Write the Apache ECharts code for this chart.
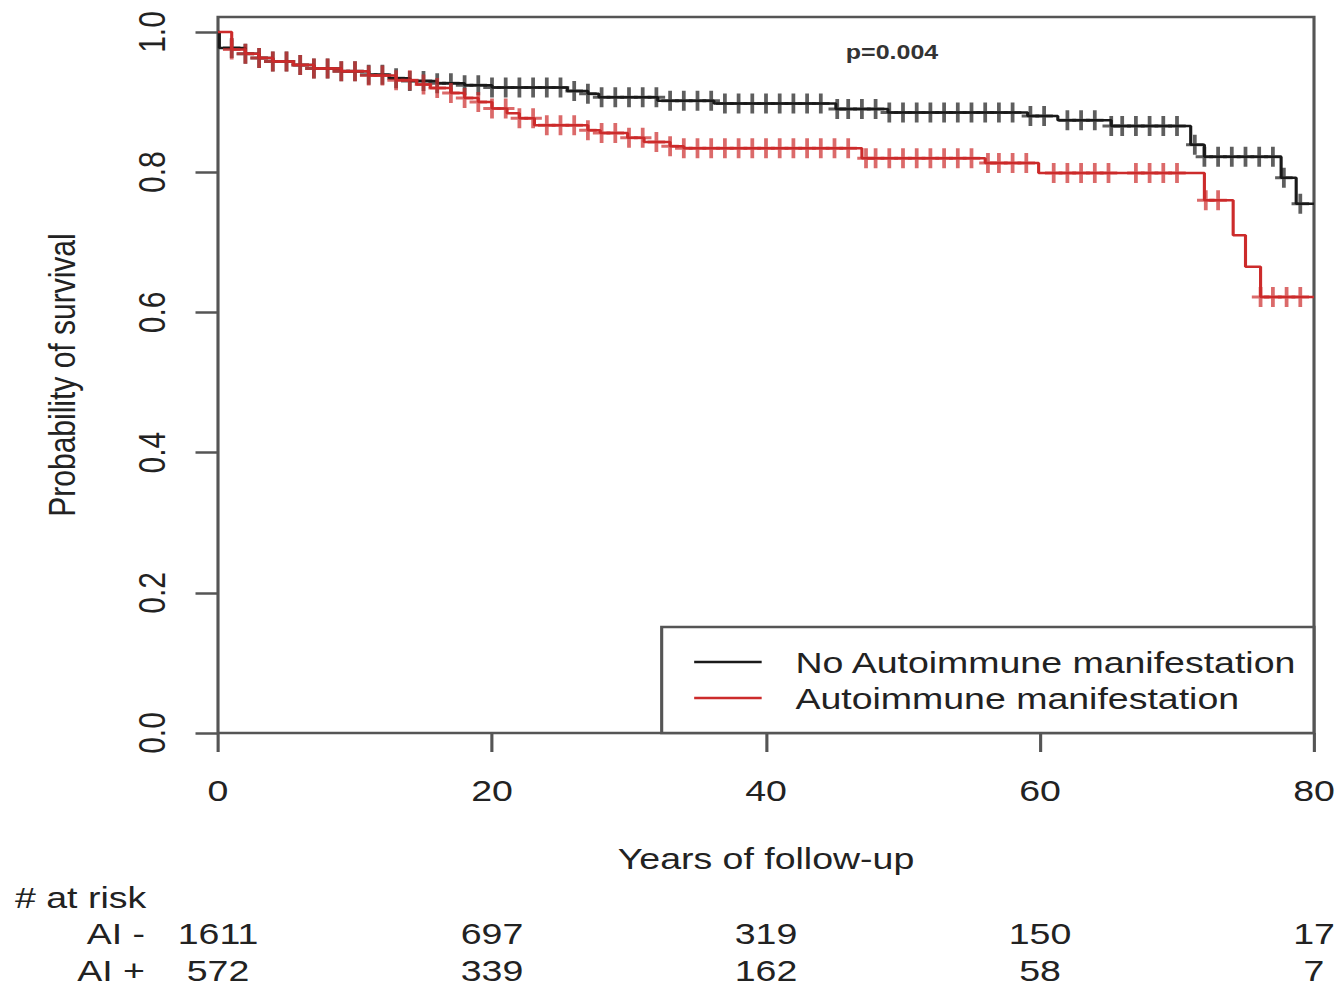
<!DOCTYPE html>
<html>
<head>
<meta charset="utf-8">
<script src="https://cdn.jsdelivr.net/npm/echarts@6/dist/echarts.min.js"></script>
<style>
  html, body { margin: 0; padding: 0; background: #fff; overflow: hidden; }
  /* the reference is stretched horizontally, so draw narrow and stretch */
  #chart { width: 1072px; height: 989px; transform: scaleX(1.25); transform-origin: 0 0; }
</style>
</head>
<body>
<div id="chart"></div>
<script>
// Kaplan-Meier steps: time (years) and survival after the step
const blackTimes = [0, 0.1, 2, 3, 4, 5.5, 7, 9, 11, 12.5, 14, 16, 18, 20, 25.5, 27, 27.8, 32.1, 36.2, 45.1, 48.9, 59.1, 61.3, 65.2, 71.0, 72.0, 77.6, 78.7, 80];
const blackSurv  = [1.0, 0.977, 0.969, 0.963, 0.958, 0.953, 0.948, 0.944, 0.939, 0.934, 0.930, 0.927, 0.924, 0.921, 0.916, 0.912, 0.907, 0.902, 0.898, 0.890, 0.885, 0.880, 0.874, 0.866, 0.839, 0.822, 0.792, 0.755, 0.755];

const redTimes = [0, 1.0, 2, 3, 4, 5.5, 7, 9, 11, 13, 14.5, 15.5, 17, 18, 19, 20, 21.1, 22, 23.1, 27.0, 27.9, 29.9, 31.1, 33.0, 34.0, 47.0, 56.0, 59.9, 72.0, 74.1, 75.0, 76.1, 80];
const redSurv  = [1.0, 0.975, 0.969, 0.963, 0.958, 0.953, 0.948, 0.944, 0.938, 0.931, 0.925, 0.920, 0.913, 0.906, 0.900, 0.891, 0.884, 0.877, 0.867, 0.860, 0.856, 0.849, 0.843, 0.837, 0.834, 0.820, 0.813, 0.799, 0.760, 0.710, 0.665, 0.622, 0.622];

// censoring times (+ marks)
const blackCensored = [1, 2, 3, 4, 5, 6, 7, 8, 9, 10, 11, 12, 13, 14, 15, 16, 17, 18, 19, 20,
  21, 22, 23, 24, 25, 26, 27, 28, 29, 30, 31, 32, 33, 34, 35, 36, 37, 38, 39, 40,
  41, 42, 43, 44, 45.2, 46, 47, 48, 49, 50, 51, 52, 53, 54, 55, 56, 57, 58, 59.3, 60.3,
  62, 63, 64, 65.2, 66, 67, 68, 69, 70, 71.3, 72, 73, 74, 75, 76, 77, 77.8, 79];
const redCensored = [1, 2, 3, 4, 5, 6, 7, 8, 9, 10, 11, 12, 13, 14, 15, 16, 17, 18, 19, 20,
  21, 22, 23, 24, 25, 26, 27, 28, 29, 30, 31, 32, 33, 34, 35, 36, 37, 38, 39, 40,
  41, 42, 43, 44, 45, 46, 47.3, 48, 49, 50, 51, 52, 53, 54, 55, 56.2, 57, 58, 59,
  61, 62, 63, 64, 65, 67, 68, 69, 70, 72.1, 73, 76.1, 77, 78, 79];

// numbers at risk
const riskTimes = [0, 20, 40, 60, 80];
const riskNoAI = [1611, 697, 319, 150, 17];
const riskAI = [572, 339, 162, 58, 7];

const yTicks = [0, 0.2, 0.4, 0.6, 0.8, 1.0];
const pText = 'p=0.004';

const FONT = '"Liberation Sans", Arial, sans-serif';
const TXT = '#222';
const AXC = '#555';
const BLACK = '#1a1a1a';
const RED = '#cc2b2b';

function survAt(times, surv, t) {
  let v = surv[0];
  for (let i = 0; i < times.length; i++) {
    if (times[i] <= t) v = surv[i];
  }
  return v;
}

function steps(times, surv) {
  return times.map((t, i) => [t, surv[i]]);
}

function marks(cens, times, surv) {
  return cens.map(t => [t, survAt(times, surv, t)]);
}

const plusSymbol = 'path://M-1.5,-10h3v20h-3z M-7,-1.5h14v3h-14z';

const chart = echarts.init(document.getElementById('chart'), null, { renderer: 'svg' });

chart.setOption({
  animation: false,
  backgroundColor: '#fff',
  grid: {
    left: 174.4, right: 20.8, top: 17, bottom: 256,
    show: true, borderColor: AXC, borderWidth: 2.5,
    outerBoundsMode: 'none'
  },
  legend: {
    orient: 'vertical',
    right: 20.8, bottom: 256,
    data: ['No Autoimmune manifestation', 'Autoimmune manifestation'],
    icon: 'rect',
    itemWidth: 54, itemHeight: 2.5,
    itemGap: 6,
    padding: [20, 13, 20, 26],
    borderColor: AXC, borderWidth: 2.5,
    backgroundColor: '#fff',
    selectedMode: false,
    textStyle: { fontFamily: FONT, fontSize: 30, color: TXT, padding: [0, 0, 0, 22] }
  },
  xAxis: {
    type: 'value', min: 0, max: 80, interval: 20,
    name: 'Years of follow-up', nameLocation: 'middle', nameGap: 110,
    nameTextStyle: { fontFamily: FONT, fontSize: 30, color: TXT },
    axisLine: { show: false },
    axisTick: { show: true, length: 19, lineStyle: { color: AXC, width: 2.5 } },
    axisLabel: { fontFamily: FONT, fontSize: 30, color: TXT, margin: 42 },
    splitLine: { show: false }
  },
  yAxis: {
    type: 'value', min: 0, max: 1.0214,
    name: 'Probability of survival', nameLocation: 'middle', nameRotate: 90, nameGap: 110,
    nameTextStyle: { fontFamily: FONT, fontSize: 30, color: TXT },
    axisLine: { show: false },
    axisTick: { show: true, length: 18, customValues: yTicks, lineStyle: { color: AXC, width: 2.5 } },
    axisLabel: {
      fontFamily: FONT, fontSize: 30, color: TXT, margin: 38, rotate: 90,
      customValues: yTicks,
      formatter: v => v.toFixed(1)
    },
    splitLine: { show: false }
  },
  series: [
    {
      name: 'No Autoimmune manifestation', type: 'line', step: 'end',
      data: steps(blackTimes, blackSurv), showSymbol: false, symbol: 'none',
      lineStyle: { color: BLACK, width: 2.5 }, itemStyle: { color: BLACK }, z: 2
    },
    {
      name: 'noai-censored', type: 'scatter',
      data: marks(blackCensored, blackTimes, blackSurv),
      symbol: plusSymbol, symbolSize: [14, 20],
      itemStyle: { color: BLACK, opacity: 0.7 }, z: 2
    },
    {
      name: 'Autoimmune manifestation', type: 'line', step: 'end',
      data: steps(redTimes, redSurv), showSymbol: false, symbol: 'none',
      lineStyle: { color: RED, width: 2.5 }, itemStyle: { color: RED }, z: 3
    },
    {
      name: 'ai-censored', type: 'scatter',
      data: marks(redCensored, redTimes, redSurv),
      symbol: plusSymbol, symbolSize: [14, 20],
      itemStyle: { color: RED, opacity: 0.7 }, z: 3
    }
  ]
});

// at-risk table and p value, placed with the chart's own scales
const txt = { fontFamily: FONT, fontSize: 30, fill: TXT };
const elements = [];
riskTimes.forEach((t, i) => {
  const x = chart.convertToPixel({ xAxisIndex: 0 }, t);
  elements.push({ type: 'text', x: x, y: 933, style: Object.assign({ text: String(riskNoAI[i]), textAlign: 'center', textVerticalAlign: 'middle' }, txt) });
  elements.push({ type: 'text', x: x, y: 970, style: Object.assign({ text: String(riskAI[i]), textAlign: 'center', textVerticalAlign: 'middle' }, txt) });
});
elements.push({ type: 'text', x: 12, y: 897, style: Object.assign({ text: '# at risk', textAlign: 'left', textVerticalAlign: 'middle' }, txt) });
elements.push({ type: 'text', x: 116, y: 933, style: Object.assign({ text: 'AI -', textAlign: 'right', textVerticalAlign: 'middle' }, txt) });
elements.push({ type: 'text', x: 116, y: 970, style: Object.assign({ text: 'AI +', textAlign: 'right', textVerticalAlign: 'middle' }, txt) });
const pPos = chart.convertToPixel({ gridIndex: 0 }, [49.2, 0.971]);
elements.push({ type: 'text', x: pPos[0], y: pPos[1], style: { text: pText, fontFamily: FONT, fontSize: 20, fontWeight: 'bold', fill: '#333', textAlign: 'center', textVerticalAlign: 'middle' } });

chart.setOption({ graphic: { elements: elements } });
</script>
</body>
</html>
